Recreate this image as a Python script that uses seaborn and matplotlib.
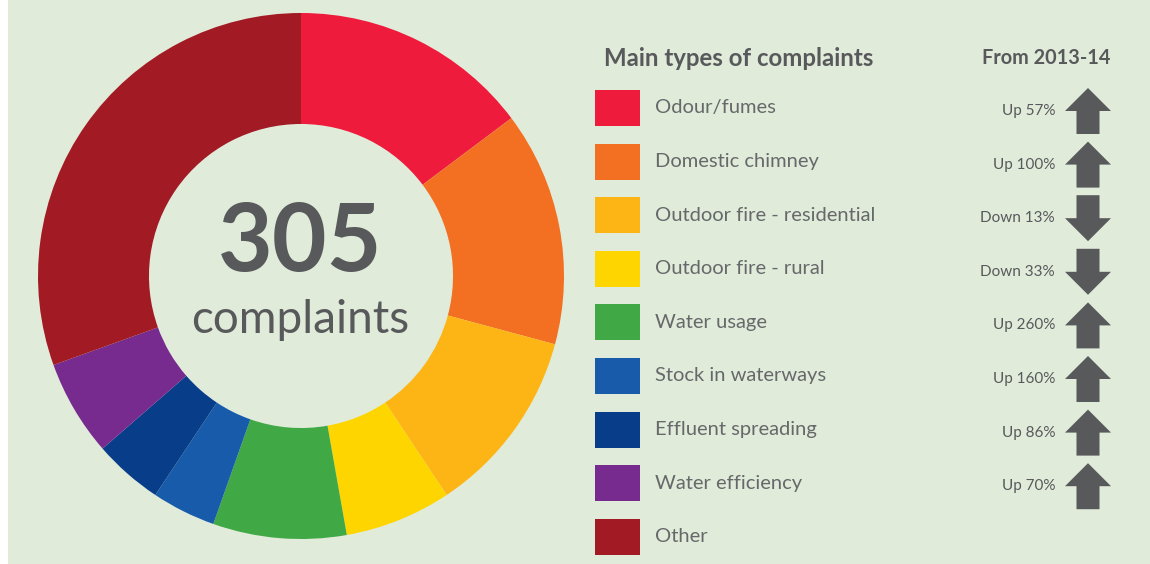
import matplotlib
matplotlib.use("Agg")
import matplotlib.pyplot as plt
import seaborn as sns

categories = ["Odour/fumes", "Domestic chimney", "Outdoor fire - residential",
              "Outdoor fire - rural", "Water usage", "Stock in waterways",
              "Effluent spreading", "Water efficiency", "Other"]
counts = [45, 44, 35, 20, 25, 12, 13, 18, 93]
colours = ["#EE1B3D", "#F36F21", "#FDB515", "#FFD500", "#40A845",
           "#175BAA", "#083D8A", "#772B8F", "#A21B24"]
# change from 2013-14 in percent (no figure for "Other")
changes = [57, 100, -13, -33, 260, 160, 86, 70]

bg = "#E0EBDA"
ink = "#58595B"

sns.set_theme(style="white")
plt.rcParams["font.family"] = ["Lato", "DejaVu Sans"]

fig = plt.figure(figsize=(11.5, 5.64), dpi=100)
fig.patch.set_facecolor("white")

# green panel (white strip on the left)
panel = fig.add_axes([8 / 1150, 0, 1 - 8 / 1150, 1])
panel.set_facecolor(bg)
panel.set_xticks([])
panel.set_yticks([])
for s in panel.spines.values():
    s.set_visible(False)

# donut
pie_ax = fig.add_axes([38 / 1150, 25 / 564, 526 / 1150, 526 / 564])
pie_ax.pie(counts, colors=colours, startangle=90, counterclock=False,
           wedgeprops=dict(width=0.422, linewidth=0))
pie_ax.set_xlim(-1, 1)
pie_ax.set_ylim(-1, 1)
pie_ax.set_aspect("equal")
pie_ax.axis("off")

# legend, centre text + change column, in pixel coordinates
ax = fig.add_axes([0, 0, 1, 1])
ax.set_xlim(0, 1150)
ax.set_ylim(564, 0)
ax.axis("off")

total = sum(counts)
ax.text(300, 244, f"{total}", ha="center", va="center", fontsize=68,
        fontweight="bold", color=ink)
ax.text(300, 320, "complaints", ha="center", va="center", fontsize=33,
        color=ink)

ax.text(604, 58, "Main types of complaints", ha="left", va="center",
        fontsize=17.3, fontweight="bold", color=ink)
ax.text(1110, 58, "From 2013-14", ha="right", va="center",
        fontsize=14.3, fontweight="bold", color=ink)

row0, step = 108, 53.6
for i, (cat, col) in enumerate(zip(categories, colours)):
    y = row0 + i * step
    ax.add_patch(plt.Rectangle((595, y - 18), 45, 36, color=col, lw=0))
    ax.text(655, y, cat, ha="left", va="center", fontsize=14.5,
            color="#66686A")

for i, ch in enumerate(changes):
    y = row0 + 3 + i * step
    word = "Up" if ch > 0 else "Down"
    ax.text(1055, y, f"{word} {abs(ch)}%", ha="right", va="center",
            fontsize=11, color=ink)
    d = -1 if ch > 0 else 1  # arrow direction in screen y
    cx, hw, sw, h = 1088, 23, 11.5, 46
    tip = y + d * h / 2
    base = y - d * h / 2
    neck = tip - d * 23
    xs = [cx, cx + hw, cx + sw, cx + sw, cx - sw, cx - sw, cx - hw]
    ys = [tip, neck, neck, base, base, neck, neck]
    ax.fill(xs, ys, color=ink, lw=0)

fig.savefig("out.png", dpi=100, facecolor=fig.get_facecolor())
